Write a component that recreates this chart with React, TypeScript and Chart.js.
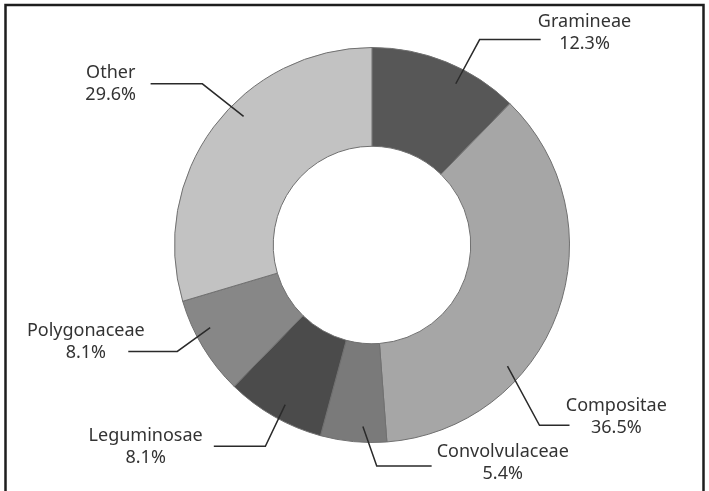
import React, { useEffect, useRef } from "react";
import { Chart, registerables } from "chart.js";

Chart.register(...registerables);

// ---- data ----
const categories = ["Gramineae", "Compositae", "Convolvulaceae", "Leguminosae", "Polygonaceae", "Other"];
const values = [12.3, 36.5, 5.4, 8.1, 8.1, 29.6];
const percentLabels = ["12.3%", "36.5%", "5.4%", "8.1%", "8.1%", "29.6%"];
const colors = ["#575757", "#a6a6a6", "#7a7a7a", "#4b4b4b", "#878787", "#c2c2c2"];

// ---- label layout (relative to pie centre, in units of outer radius) ----
type LabelLayout = { frac: number; tx: number; ty: number; lineY: number; elbowX: number; endX: number };
const labelLayout: LabelLayout[] = [
  { frac: 0.62, tx: 1.076, ty: -1.076, lineY: -1.04, elbowX: 0.545, endX: 0.854 },
  { frac: 0.666, tx: 1.237, ty: 0.87, lineY: 0.913, elbowX: 0.848, endX: 1.0 },
  { frac: 0.37, tx: 0.662, ty: 1.103, lineY: 1.119, elbowX: 0.024, endX: 0.302 },
  { frac: 0.46, tx: -1.146, ty: 1.022, lineY: 1.019, elbowX: -0.54, endX: -0.801 },
  { frac: 0.64, tx: -1.449, ty: 0.492, lineY: 0.539, elbowX: -0.986, endX: -1.234 },
  { frac: 0.578, tx: -1.323, ty: -0.816, lineY: -0.816, elbowX: -0.859, endX: -1.121 },
];

const framePlugin = {
  id: "frame",
  beforeDraw(chart: any) {
    const ctx = chart.ctx;
    const w = chart.width;
    const h = chart.height;
    ctx.save();
    ctx.strokeStyle = "#1e1e1e";
    ctx.lineWidth = 2.5;
    ctx.beginPath();
    ctx.moveTo(5.5, h + 5);
    ctx.lineTo(5.5, 5);
    ctx.lineTo(w - 5.5, 5);
    ctx.lineTo(w - 5.5, h + 5);
    ctx.stroke();
    ctx.restore();
  },
};

const leaderPlugin = {
  id: "leaders",
  afterDatasetsDraw(chart: any) {
    const ctx = chart.ctx;
    const meta = chart.getDatasetMeta(0);
    ctx.save();
    meta.data.forEach((arc: any, i: number) => {
      const p = arc.getProps(["x", "y", "startAngle", "endAngle", "innerRadius", "outerRadius"], true);
      const L = labelLayout[i];
      const R = p.outerRadius;
      const a = p.startAngle + (p.endAngle - p.startAngle) * L.frac;
      const r = p.innerRadius + (p.outerRadius - p.innerRadius) * 0.84;
      const ax = p.x + Math.cos(a) * r;
      const ay = p.y + Math.sin(a) * r;
      ctx.strokeStyle = "#2a2a2a";
      ctx.lineWidth = 1.5;
      ctx.beginPath();
      ctx.moveTo(ax, ay);
      ctx.lineTo(p.x + L.elbowX * R, p.y + L.lineY * R);
      ctx.lineTo(p.x + L.endX * R, p.y + L.lineY * R);
      ctx.stroke();

      ctx.fillStyle = "#333333";
      ctx.font = "18px 'Noto Sans'";
      ctx.textAlign = "center";
      ctx.textBaseline = "middle";
      const cx = p.x + L.tx * R;
      const cy = p.y + L.ty * R;
      ctx.fillText(categories[i], cx, cy - 11);
      ctx.fillText(percentLabels[i], cx, cy + 11);
    });
    ctx.restore();
  },
};

export default function App() {
  const canvasRef = useRef<HTMLCanvasElement | null>(null);

  useEffect(() => {
    if (!canvasRef.current) return;
    const chart = new Chart(canvasRef.current, {
      type: "doughnut",
      data: {
        labels: categories,
        datasets: [
          {
            data: values,
            backgroundColor: colors,
            borderColor: "#707070",
            borderWidth: 1,
          },
        ],
      },
      options: {
        animation: false,
        responsive: true,
        maintainAspectRatio: false,
        cutout: "50%",
        layout: { padding: { top: 47, bottom: 48, left: 174, right: 139 } },
        plugins: {
          legend: { display: false },
          tooltip: { enabled: false },
        },
      },
      plugins: [framePlugin, leaderPlugin],
    });
    return () => chart.destroy();
  }, []);

  return (
    <div style={{ position: "absolute", left: 0, top: 0, width: 709, height: 491, background: "#fff" }}>
      <canvas ref={canvasRef} />
    </div>
  );
}
